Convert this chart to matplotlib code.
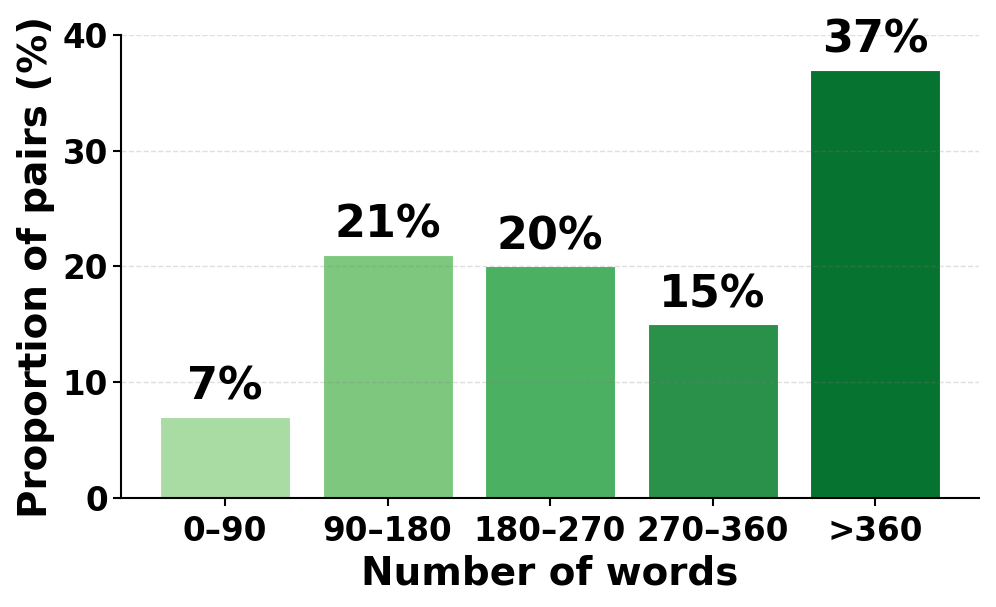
import matplotlib
matplotlib.use("Agg")
import matplotlib.pyplot as plt
import numpy as np

categories = ["0–90", "90–180", "180–270", "270–360", ">360"]
values = [7, 21, 20, 15, 37]
labels = ["7%", "21%", "20%", "15%", "37%"]

colors = plt.cm.Greens(np.linspace(0.35, 0.85, len(values)))

fig = plt.figure(figsize=(9.96, 6.07), dpi=100)
ax = fig.add_axes([0.1215, 0.1796, 0.8615, 0.7628])
x = np.arange(len(categories))
bars = ax.bar(x, values, width=0.8, color=colors, edgecolor="white", linewidth=0.8)
for xi, v, lab in zip(x, values, labels):
    ax.text(xi, v + 0.7, lab, ha="center", va="bottom", fontsize=32, fontweight="bold")

ax.set_ylim(0, 40)
ax.set_yticks([0, 10, 20, 30, 40])
ax.set_xticks(x)
ax.set_xticklabels(categories)
for t in ax.get_xticklabels() + ax.get_yticklabels():
    t.set_fontsize(23.5)
    t.set_fontweight("bold")
ax.set_xlabel("Number of words", fontsize=28, fontweight="bold", labelpad=5)
ax.set_ylabel("Proportion of pairs (%)", fontsize=28, fontweight="bold", labelpad=5)
ax.spines["top"].set_visible(False)
ax.spines["right"].set_visible(False)
ax.spines["left"].set_linewidth(1.5)
ax.spines["bottom"].set_linewidth(1.5)
ax.tick_params(width=1.5, length=6)
ax.tick_params(axis="x", pad=6)
ax.yaxis.grid(True, linestyle="--", color="gray", alpha=0.25, linewidth=1)

fig.savefig("out.png", dpi=100)
